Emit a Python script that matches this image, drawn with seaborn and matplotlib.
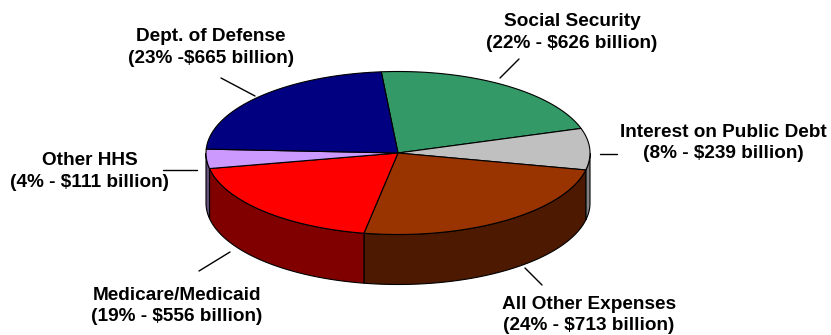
import numpy as np
import matplotlib
matplotlib.use("Agg")
import matplotlib.pyplot as plt
from matplotlib.patches import Polygon
import seaborn as sns

# Federal spending by category (billions of dollars), clockwise from the top
categories = ["Social Security", "Interest on Public Debt", "All Other Expenses",
              "Medicare/Medicaid", "Other HHS", "Dept. of Defense"]
percents = [22, 8, 24, 19, 4, 23]
billions = [626, 239, 713, 556, 111, 665]
labels = [
    "Social Security\n(22% - $626 billion)",
    "Interest on Public Debt\n(8% - $239 billion)",
    "All Other Expenses\n(24% - $713 billion)",
    "Medicare/Medicaid\n(19% - $556 billion)",
    "Other HHS\n(4% - $111 billion)",
    "Dept. of Defense\n(23% -$665 billion)",
]

top_colors = ["#339966", "#C0C0C0", "#993300", "#FF0000", "#CC99FF", "#000080"]
side_colors = ["#1A4D33", "#808080", "#4D1900", "#800000", "#66507F", "#000040"]

sns.set_theme(style="white")
plt.rcParams["font.family"] = ["Liberation Sans", "DejaVu Sans"]

W, H = 831, 335
fig = plt.figure(figsize=(W / 100, H / 100), dpi=100)
ax = fig.add_axes([0, 0, 1, 1])
ax.set_xlim(0, W)
ax.set_ylim(H, 0)
ax.axis("off")

# tilted pie geometry (pixel units)
cx, cy, rx, ry, depth = 398, 153, 192, 81.5, 50
start = 95.0


def pt(theta_deg, dy=0.0):
    t = np.deg2rad(theta_deg)
    return cx + rx * np.cos(t), cy - ry * np.sin(t) + dy


def arc(a, b, dy=0.0, n=80):
    th = np.linspace(a, b, n)
    xs, ys = pt(th, dy)
    return np.column_stack([xs, ys])


fractions = np.array(billions, dtype=float) / np.sum(billions)
bounds = start - 360 * np.concatenate([[0], np.cumsum(fractions)])

# side walls on the front half of the disc
for i in range(len(billions)):
    hi, lo = bounds[i], bounds[i + 1]
    s_hi, s_lo = min(hi, 0.0), max(lo, -180.0)
    if s_hi <= s_lo:
        continue
    top = arc(s_lo, s_hi)
    bot = arc(s_hi, s_lo, dy=depth)
    ax.add_patch(Polygon(np.vstack([top, bot]), closed=True,
                         facecolor=side_colors[i], edgecolor="black", lw=0.8))

# top face wedges
for i in range(len(billions)):
    hi, lo = bounds[i], bounds[i + 1]
    pts = np.vstack([[cx, cy], arc(hi, lo)])
    ax.add_patch(Polygon(pts, closed=True, facecolor=top_colors[i],
                         edgecolor="black", lw=0.8, joinstyle="round"))

# leader lines
leaders = [
    ((500, 78), (519, 59)),
    ((600, 154), (617, 154)),
    ((525, 268), (542, 285)),
    ((230, 252), (199, 271)),
    ((163, 170), (197, 170)),
    ((221, 78), (255, 96)),
]
for (x0, y0), (x1, y1) in leaders:
    ax.plot([x0, x1], [y0, y1], color="black", lw=1.0)

# category labels
label_pos = [(572, 32.5), (723, 143), (589, 315), (177, 306), (90, 171.5), (211, 47.5)]
for (x, y), txt in zip(label_pos, labels):
    ax.text(x, y, txt, ha="center", va="center", fontsize=13.7,
            fontweight="bold", color="black", linespacing=1.35)

fig.savefig("out.png", dpi=100, facecolor="white")
